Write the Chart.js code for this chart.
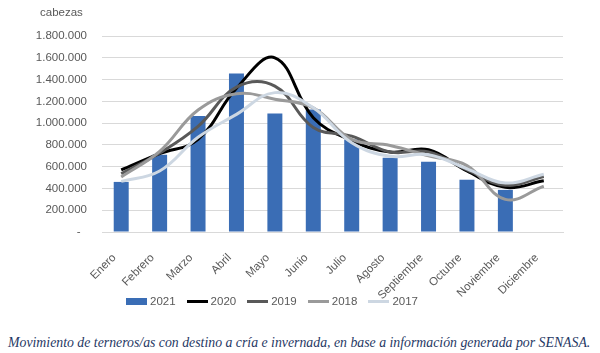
<!DOCTYPE html>
<html lang="es">
<head>
  <meta charset="UTF-8" />
  <title>Movimiento de terneros/as</title>
  <style>
    body {
      margin: 0;
      background: #ffffff;
      font-family: 'Liberation Sans', Arial, sans-serif;
    }
    .lienzo {
      position: relative;
      width: 600px;
      height: 353px;
    }
    .grafico {
      position: absolute;
      left: 0;
      top: 0;
      width: 600px;
      height: 305px;
    }
    .unidad {
      position: absolute;
      left: 40px;
      top: 6px;
      font-size: 11.5px;
      color: #595959;
    }
    .leyenda {
      position: absolute;
      left: 126px;
      top: 295px;
      display: flex;
      align-items: center;
      gap: 11px;
      font-size: 11.5px;
      color: #595959;
    }
    .leyenda span.item {
      display: flex;
      align-items: center;
      gap: 3px;
    }
    .leyenda i {
      display: inline-block;
      width: 21px;
    }
    .pie {
      position: absolute;
      left: 8px;
      top: 335px;
      font-family: 'Liberation Serif', serif;
      font-style: italic;
      font-size: 13.8px;
      color: #1f3864;
      white-space: nowrap;
    }
  </style>
</head>
<body>
  <div class="lienzo">
    <div class="grafico"><canvas id="grafico"></canvas></div>
    <div class="unidad">cabezas</div>
    <div class="leyenda" id="leyenda"></div>
    <div class="pie">Movimiento de terneros/as con destino a cría e invernada, en base a información generada por SENASA.</div>
  </div>
  <script src="https://cdn.jsdelivr.net/npm/chart.js"></script>
  <script>
    const meses = ['Enero', 'Febrero', 'Marzo', 'Abril', 'Mayo', 'Junio', 'Julio', 'Agosto',
      'Septiembre', 'Octubre', 'Noviembre', 'Diciembre'];

    const v2021 = [460000, 710000, 1065000, 1455000, 1088000, 1125000, 850000, 683000, 645000, 480000, 387000, null];
    const v2020 = [570000, 720000, 850000, 1320000, 1600000, 1050000, 840000, 735000, 755000, 560000, 410000, 470000];
    const v2019 = [535000, 725000, 970000, 1330000, 1340000, 960000, 880000, 735000, 735000, 570000, 430000, 510000];
    const v2018 = [505000, 740000, 1120000, 1270000, 1220000, 1140000, 850000, 795000, 700000, 610000, 300000, 420000];
    const v2017 = [465000, 560000, 870000, 1080000, 1280000, 1140000, 820000, 695000, 710000, 580000, 450000, 530000];

    const yMax = 1800000;
    const yPaso = 200000;

    function conPuntos(n) {
      if (n === 0) return '-  ';
      return String(n).replace(/\B(?=(\d{3})+(?!\d))/g, '.');
    }

    function serie(nombre, datos, color, orden) {
      return {
        type: 'line',
        label: nombre,
        data: datos,
        borderColor: color,
        backgroundColor: color,
        borderWidth: 3,
        pointRadius: 0,
        tension: 0.4,
        fill: false,
        order: orden
      };
    }

    const datasets = [
      {
        type: 'bar',
        label: '2021',
        data: v2021,
        backgroundColor: '#3a6db5',
        barPercentage: 0.39,
        categoryPercentage: 1,
        order: 9
      },
      serie('2020', v2020, '#000000', 4),
      serie('2019', v2019, '#595959', 3),
      serie('2018', v2018, '#9a9a9a', 2),
      serie('2017', v2017, '#cdd7e2', 1)
    ];

    new Chart(document.getElementById('grafico'), {
      data: { labels: meses, datasets: datasets },
      options: {
        responsive: true,
        maintainAspectRatio: false,
        animation: false,
        layout: { padding: { top: 36, right: 37, left: 0, bottom: 0 } },
        plugins: {
          legend: { display: false },
          tooltip: { enabled: false }
        },
        scales: {
          x: {
            grid: { display: false },
            border: { color: '#d9d9d9' },
            ticks: {
              color: '#595959',
              font: { family: 'Liberation Sans', size: 11.5 },
              minRotation: 45,
              maxRotation: 45,
              autoSkip: false,
              padding: 11,
              labelOffset: -7
            },
            afterFit: (s) => { s.height = 73; }
          },
          y: {
            min: 0,
            max: yMax,
            grid: { color: '#d9d9d9', drawTicks: false },
            border: { display: false },
            ticks: {
              stepSize: yPaso,
              color: '#595959',
              font: { family: 'Liberation Sans', size: 11.5 },
              padding: 15,
              callback: (v) => conPuntos(v)
            },
            afterFit: (s) => { s.width = 102; }
          }
        }
      }
    });

    // leyenda en html, con los mismos colores de las series
    const leyenda = document.getElementById('leyenda');
    datasets.forEach((d) => {
      const item = document.createElement('span');
      item.className = 'item';
      const marca = document.createElement('i');
      if (d.type === 'bar') {
        marca.style.height = '7px';
        marca.style.background = d.backgroundColor;
      } else {
        marca.style.height = '3px';
        marca.style.background = d.borderColor;
      }
      item.appendChild(marca);
      item.appendChild(document.createTextNode(d.label));
      leyenda.appendChild(item);
    });
  </script>
</body>
</html>
